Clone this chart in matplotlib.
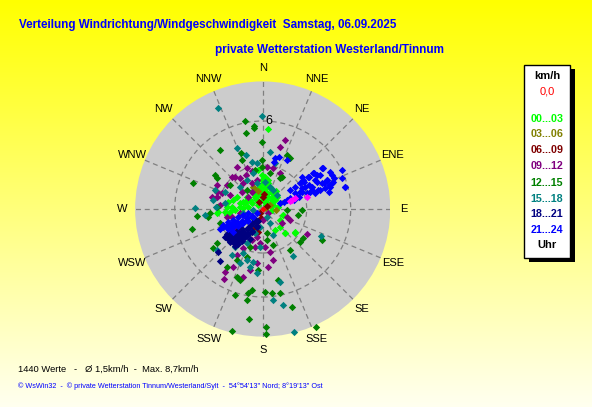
import matplotlib.pyplot as plt
import numpy as np
from matplotlib.patches import Circle, Rectangle

plt.rcParams['font.family'] = ['Liberation Sans', 'DejaVu Sans']

W, H = 592, 407
R_MAX = 8.7          # km/h at the edge of the disc
PX_CENTER = (262.7, 209.0)
PX_RADIUS = 127.6

# wind vectors (east, north) in km/h, grouped by hour of day
pts_00_03 = [(-2.34, 0.5), (-2.0, 0.61), (-1.77, 0.84), (-3.14, -0.30), (-3.02, -0.18),
             (-2.45, 0.16), (-2.11, 0.16), (-1.55, 0.39), (-1.32, 0.5), (-1.09, 0.61),
             (-0.75, 0.39), (-0.41, 0.61), (-0.18, 0.95), (0.05, 1.18), (0.16, 1.41),
             (0.27, 1.07), (0.5, 1.41), (0.61, 1.07), (0.39, 0.84), (0.73, 0.84),
             (0.84, 0.61), (-0.18, 1.52), (-0.41, 1.30), (-0.64, 1.07), (-0.07, 1.98),
             (0.16, 2.2), (0.39, 1.75), (0.05, 0.61), (-0.30, 0.27), (1.07, 0.16),
             (1.41, -0.41), (2.2, -1.66), (1.52, -1.66), (1.18, -1.20), (-1.32, 0.05),
             (-0.98, 0.16), (0.27, 0.39), (0.73, 0.27), (0.61, -0.07), (0.39, 5.43),
             (-2.57, -0.18), (1.41, -0.41), (1.18, -0.75), (1.52, -1.66), (2.2, -1.55),
             (0.84, -1.43), (0.3, 1.6), (-0.5, 0.8), (0.9, 1.2), (0.2, 0.3),
             (0.05, 1.75), (0.39, 1.98), (0.5, 1.52), (0.73, 1.18), (0.95, 0.84),
             (0.27, 1.07), (-0.18, 1.30), (-0.52, 0.95), (-0.86, 0.61), (-1.2, 0.39),
             (-1.55, 0.16), (-1.89, -0.07), (-2.23, -0.18), (-2.45, -0.41), (-1.09, 0.84),
             (-0.41, 0.61), (0.61, 0.61), (1.18, 0.39), (0.16, 0.5), (-0.07, 2.32),
             (-0.3, 2.66)]
pts_03_06 = [(-0.59, 1.45), (-0.68, 1.48), (0.2, 0.1), (-0.3, 1.2), (0.5, 0.3), (0.9, -0.1)]
pts_06_09 = [(-0.25, 0.5), (-0.2, -0.3), (0.0, 0.8), (-0.4, -0.9), (0.3, 0.2),
             (-0.1, -0.6), (-0.5, -1.3), (0.1, 1.0), (-0.3, -1.6)]
pts_09_12 = [(1.52, 4.70), (1.18, 4.20), (-1.77, 2.84), (-1.09, 2.77), (-1.16, 2.32),
             (-0.75, 2.61), (-3.14, 1.64), (-3.14, 1.18), (-2.45, 1.64), (-1.89, 2.20),
             (-1.55, 2.09), (-1.32, 1.75), (-0.75, 1.75), (-0.41, 1.98), (-3.48, 0.84),
             (-3.14, 0.84), (-2.80, 1.07), (-2.23, 0.95), (-0.75, 1.18), (-2.11, -0.52),
             (-2.45, -0.52), (-1.89, -1.20), (-1.55, -1.32), (-0.41, -1.89), (-0.18, -2.34),
             (0.16, -2.57), (-0.75, -2.11), (-0.52, -2.57), (-2.57, -4.27), (-2.64, -4.80),
             (-2.0, -3.93), (-0.86, -4.16), (-1.32, -4.61), (-0.41, -3.70), (0.39, -3.93),
             (0.73, -3.48), (0.5, -2.91), (1.30, -0.98), (1.86, -0.75), (3.0, -1.70),
             (1.64, -0.52), (-2.11, 2.20), (0.27, 2.89), (0.73, 2.77), (1.18, 2.43),
             (-1.43, 1.18), (-0.98, 0.84), (-2.91, 0.27), (-1.55, -0.30), (-1.09, -0.64),
             (-1.32, -2.68), (-1.77, -3.14), (0.39, -0.30), (0.05, -0.75)]
pts_12_15 = [(-1.20, 6.0), (-0.59, 5.66), (-0.57, 5.5), (-1.16, 5.2), (-0.07, 4.59),
             (-2.91, 4.02), (-1.5, 3.8), (1.86, 3.45), (1.64, 3.68), (-0.02, 3.34),
             (-1.43, 3.34), (-4.77, 1.80), (-3.25, 2.32), (-3.14, 2.09), (-2.23, 1.64),
             (-0.07, 2.89), (1.18, 2.09), (1.30, 2.20), (-4.45, -0.48), (-3.59, -0.30),
             (-3.70, -0.52), (-4.84, -1.39), (-3.36, -2.68), (-3.14, -2.30), (-1.89, -2.0),
             (-1.70, -4.73), (-1.89, -5.86), (-1.09, -6.20), (-0.98, -5.75), (-0.75, -5.52),
             (0.16, -5.64), (0.61, -5.75), (-0.91, -7.52), (0.2, -8.52), (0.2, -8.02),
             (-2.11, -8.3), (3.64, -8.02), (1.98, -6.66), (1.18, -5.75), (1.07, -4.84),
             (1.86, -2.80), (2.55, -2.23), (2.77, -2.0), (4.02, -2.11), (2.66, -0.07),
             (2.43, -0.41), (1.64, -0.07), (-1.77, -4.61), (-1.55, -4.84), (-2.45, -3.93),
             (-1.77, -3.48), (-1.09, -3.25), (-0.30, -4.16), (-0.86, -2.57), (0.27, -2.11),
             (0.73, -2.45), (-2.45, -1.20), (-2.91, -0.98), (-1.09, 1.30), (-0.52, 2.66),
             (0.5, 2.43), (-3.14, 0.16), (-0.75, -0.52), (0.27, -1.66)]
pts_15_18 = [(-3.07, 6.9), (-0.07, 6.34), (-1.77, 4.14), (-1.16, 3.68), (-0.75, 3.23),
             (0.5, 3.91), (0.84, 3.11), (-0.41, 3.11), (-3.25, 1.30), (-2.57, 1.18),
             (-4.61, 0.05), (-3.93, -0.41), (-3.18, 0.16), (-3.36, 0.61), (-2.57, 0.39),
             (-1.55, 1.52), (-0.41, 1.75), (0.16, 1.86), (0.5, 1.52), (0.95, 0.95),
             (0.73, 1.30), (-0.64, 2.43), (-1.09, 1.98), (-3.14, -2.80), (-2.11, -3.14),
             (-1.32, -3.02), (-1.09, -3.48), (-0.64, -3.59), (-1.55, -3.70), (-1.89, -2.57),
             (-1.09, -2.34), (-0.52, -1.66), (-0.18, -1.20), (-0.18, -2.57), (1.18, -4.95),
             (1.41, -6.55), (2.16, -8.36), (0.73, -6.20), (0.73, -1.77), (2.09, -3.20),
             (3.95, -1.84), (-1.32, -0.30), (-2.0, -0.98), (0.27, -0.52), (0.5, -0.98),
             (-0.64, -0.07), (-0.86, -3.93), (-0.41, -4.39)]
pts_18_21 = [(-2.34, -2.05), (-2.11, -1.93), (-1.89, -1.82), (-1.77, -2.16), (-1.55, -1.70),
             (-1.32, -1.59), (-1.09, -1.36), (-0.86, -1.14), (-0.64, -0.91), (-0.52, -0.68),
             (-2.0, -2.27), (-1.66, -2.39), (-1.43, -2.16), (-1.20, -1.93), (-2.23, -2.27),
             (-3.02, -2.95), (-2.91, -3.52), (-2.45, -1.70), (-2.11, -1.59), (-1.77, -1.48),
             (-1.43, -1.36), (-0.98, -1.70), (-0.75, -1.48), (-0.41, -1.14), (-0.30, -0.80),
             (-1.89, -2.5), (-0.86, -2.05), (-2.6, -1.9), (-2.3, -1.75), (-1.6, -2.0),
             (-2.34, -1.89), (-2.0, -1.89), (-1.66, -1.77), (-1.32, -1.55), (-0.98, -1.32),
             (-0.64, -0.98), (-2.23, -2.11), (-1.77, -2.11), (-1.43, -2.0), (-1.09, -1.77),
             (-0.75, -1.55), (-0.41, -1.2), (-1.89, -2.34)]
pts_21_24 = [(4.05, 2.77), (4.61, 2.55), (4.84, 2.09), (5.41, 2.66), (5.64, 1.52),
             (4.39, 1.98), (4.16, 1.75), (4.27, 1.41), (4.5, 1.18), (3.93, 1.30),
             (3.59, 1.98), (3.48, 2.43), (3.36, 1.52), (3.59, 1.07), (3.14, 1.64),
             (2.91, 1.52), (2.80, 1.86), (2.68, 1.41), (2.57, 1.18), (2.45, 0.84),
             (2.23, 1.07), (2.11, 0.61), (1.89, 0.73), (1.66, 0.61), (1.43, 0.50),
             (1.20, 0.39), (3.93, 2.32), (3.70, 2.32), (3.14, 2.20), (2.68, 2.20),
             (4.73, 1.75), (4.5, 1.64), (3.25, 1.18), (0.86, 3.45), (1.09, 3.57),
             (1.66, 3.34), (0.75, 3.23),
             (1.86, 1.30), (2.2, 1.52), (2.55, 1.75), (2.77, 1.98), (3.11, 2.2),
             (3.45, 2.43), (3.68, 1.86), (4.02, 1.75), (4.36, 1.98), (4.59, 1.52),
             (3.34, 1.30), (3.0, 1.07), (2.66, 1.18), (2.32, 0.84), (4.14, 2.77),
             (4.7, 2.32), (4.82, 1.86), (5.39, 2.09), (5.61, 1.48), (3.8, 1.30),
             (-2.91, -1.36), (-2.68, -1.25), (-2.45, -1.14), (-2.11, -1.02), (-1.77, -0.91),
             (-1.43, -0.80), (-1.09, -0.64), (-0.75, -0.45), (-0.41, -0.27), (-2.34, -1.36),
             (-2.0, -1.25), (-1.66, -1.14), (-1.32, -0.95), (-0.98, -0.80),
             (-2.68, -1.09), (-2.34, -0.86), (-2.0, -0.75), (-1.66, -0.52), (-1.32, -0.41),
             (-0.98, -0.30), (-2.23, -1.32), (-1.77, -1.09), (-1.43, -0.98), (-1.09, -0.75),
             (-0.64, -0.52), (-2.0, -1.55)]
pts_last = [(2.0, 0.61), (2.23, 0.73), (1.89, 0.55), (3.02, 0.84)]
pts_calm = [(0.0, 0.0)]

groups = [
    ('00...03', '#00ff00', pts_00_03),
    ('03...06', '#808000', pts_03_06),
    ('06...09', '#800000', pts_06_09),
    ('09...12', '#800080', pts_09_12),
    ('12...15', '#008000', pts_12_15),
    ('15...18', '#008080', pts_15_18),
    ('18...21', '#000080', pts_18_21),
    ('21...24', '#0000ff', pts_21_24),
]

directions = ['N', 'NNE', 'NE', 'ENE', 'E', 'ESE', 'SE', 'SSE',
              'S', 'SSW', 'SW', 'WSW', 'W', 'WNW', 'NW', 'NNW']
rings = [3, 6]

title = 'Verteilung Windrichtung/Windgeschwindigkeit  Samstag, 06.09.2025'
subtitle = 'private Wetterstation Westerland/Tinnum'
summary = '1440 Werte   -   Ø 1,5km/h  -  Max. 8,7km/h'
footer = ('© WsWin32  -  © private Wetterstation Tinnum/Westerland/Sylt  -  '
          '54°54\'13" Nord; 8°19\'13" Ost')

fig = plt.figure(figsize=(W / 100, H / 100), dpi=100)


def fx(x):
    return x / W


def fy(y):
    return 1 - y / H


# yellow gradient background
bg = fig.add_axes([0, 0, 1, 1])
grad = np.linspace(0, 1, 256)[:, None]
img = np.ones((256, 1, 3))
img[:, 0, 2] = grad[:, 0] * 0.94
bg.imshow(img, aspect='auto', extent=[0, 1, 0, 1], origin='upper')
bg.set_xlim(0, 1)
bg.set_ylim(0, 1)
bg.axis('off')

# polar disc as an equal-scaled cartesian axes in km/h
ax = fig.add_axes([fx(PX_CENTER[0] - PX_RADIUS), fy(PX_CENTER[1] + PX_RADIUS),
                   2 * PX_RADIUS / W, 2 * PX_RADIUS / H])
ax.set_xlim(-R_MAX, R_MAX)
ax.set_ylim(-R_MAX, R_MAX)
ax.axis('off')
ax.add_patch(Circle((0, 0), R_MAX, facecolor='#cccccc', edgecolor='none', zorder=0))
for r in rings:
    ax.add_patch(Circle((0, 0), r, facecolor='none', edgecolor='#7f7f7f',
                        lw=0.9, ls=(0, (4, 3)), zorder=1))
for i, d in enumerate(directions):
    a = np.deg2rad(i * 22.5)
    ax.plot([0, R_MAX * np.sin(a)], [0, R_MAX * np.cos(a)], color='#7f7f7f',
            lw=0.9, ls=(0, (4, 3)), zorder=1)
    ax.text(9.6 * np.sin(a), 9.6 * np.cos(a), d, ha='center', va='center',
            fontsize=8, color='black', clip_on=False)
ax.text(0.15, 6.0, '6', ha='left', va='center', fontsize=9, color='black', zorder=2)

for label, color, pts in groups:
    e, n = zip(*pts)
    ax.scatter(e, n, s=14, marker='D', color=color, linewidths=0, zorder=3)
e, n = zip(*pts_last)
ax.scatter(e, n, s=14, marker='D', color='#ff00ff', linewidths=0, zorder=4)
e, n = zip(*pts_calm)
ax.scatter(e, n, s=10, marker='D', color='#ff0000', linewidths=0, zorder=4)

# texts
renderer = fig.canvas.get_renderer()


def fit(t, width):
    bb = t.get_window_extent(renderer)
    t.set_fontsize(t.get_fontsize() * width / bb.width)


t = fig.text(fx(19), fy(25), title, ha='left', va='center', color='#0000ff',
             fontweight='bold', fontsize=10)
fit(t, 379)
t = fig.text(fx(215), fy(50), subtitle, ha='left', va='center', color='#0000ff',
             fontweight='bold', fontsize=10)
fit(t, 228)
t = fig.text(fx(18), fy(369), summary, ha='left', va='center', color='black', fontsize=9)
fit(t, 181)
t = fig.text(fx(18), fy(386), footer, ha='left', va='center', color='#0000ff',
             fontsize=6)
fit(t, 309)

# legend box with shadow
bg.add_patch(Rectangle((fx(529), fy(262)), 46 / W, 193 / H, facecolor='black',
                       edgecolor='none', zorder=2))
bg.add_patch(Rectangle((fx(524), fy(258)), 46 / W, 193 / H, facecolor='white',
                       edgecolor='black', lw=1, zorder=3))
fig.text(fx(547), fy(76), 'km/h', ha='center', va='center', fontsize=8,
         fontweight='bold', color='black')
fig.text(fx(547), fy(92), '0,0', ha='center', va='center', fontsize=8, color='#ff0000')
rows_y = [119, 134, 150, 166, 183, 199, 214, 230]
for (label, color, pts), yy in zip(groups, rows_y):
    t = fig.text(fx(547), fy(yy), label, ha='center', va='center', fontsize=8,
                 fontweight='bold', color=color)
    fit(t, 33)
fig.text(fx(547), fy(245), 'Uhr', ha='center', va='center', fontsize=8,
         fontweight='bold', color='black')

fig.savefig('out.png', dpi=100)
